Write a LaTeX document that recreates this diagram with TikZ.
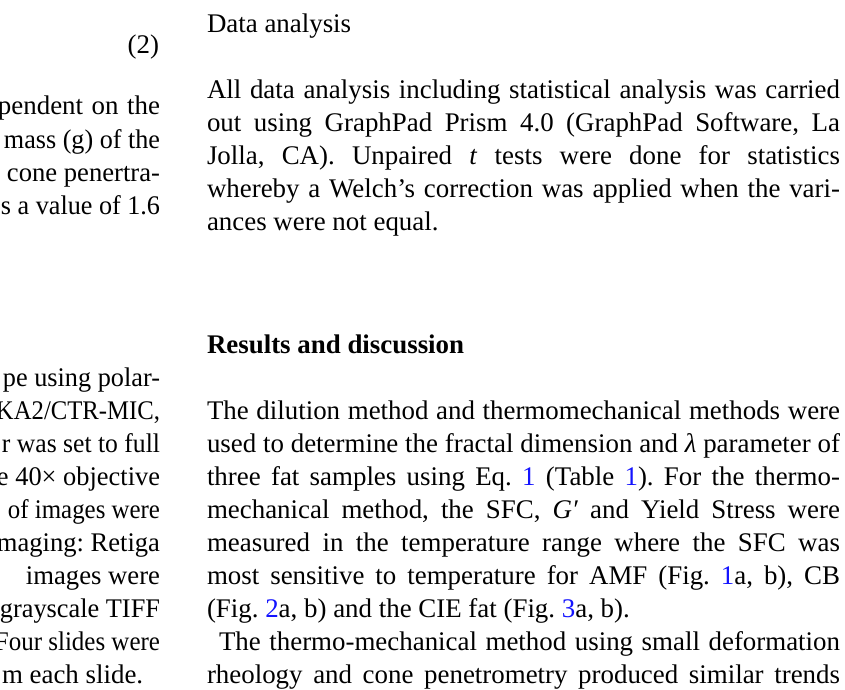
\documentclass[tikz,border=0pt]{standalone}
\usepackage{fontspec}
\setmainfont{Liberation Serif}
\usepackage{graphicx}
\frenchspacing
\definecolor{linkblue}{RGB}{20,20,255}
\newlength\natw
\newcommand\fitline[2]{%
  \settowidth\natw{#2}%
  \ifdim\natw>#1\relax
    \resizebox{#1}{\height}{#2}%
  \else
    \makebox[#1][s]{#2}%
  \fi}
\newcommand\lk[1]{{\color{linkblue}#1}}
\tikzset{
  txt/.style={inner sep=0pt, outer sep=0pt, font=\fontsize{26.9}{33}\selectfont\frenchspacing},
  rcol/.style={txt, anchor=base west},
  lcol/.style={txt, anchor=base east},
}
\begin{document}
\begin{tikzpicture}[x=1pt,y=-1pt]
\useasboundingbox (0,0) rectangle (845,689);
\fill[white] (0,0) rectangle (845,689);
\clip (0,0) rectangle (845,689);
% ---------- left column ----------
\node[lcol] (l0) at (159,53) {(2)};
\node[lcol] (l1) at (160,114) {\fitline{162pt}{pendent on the}};
\node[lcol] (l2) at (160,148) {\fitline{156pt}{mass (g) of the}};
\node[lcol] (l3) at (160,181) {\fitline{153pt}{cone penertra-}};
\node[lcol] (l4) at (160,214) {\fitline{159pt}{s a value of 1.6}};
\node[lcol] (l5) at (160,386) {\fitline{157pt}{pe using polar-}};
\node[lcol] (l6) at (160,419) {\fitline{164pt}{KA2/CTR-MIC,}};
\node[lcol] (l7) at (160,452) {\fitline{158pt}{r was set to full}};
\node[lcol] (l8) at (160,485) {\fitline{163pt}{e 40× objective}};
\node[lcol] (l9) at (160,518) {\fitline{152pt}{of images were}};
\node[lcol] (l10) at (160,551) {\fitline{163pt}{maging: Retiga}};
\node[lcol] (l11) at (160,584) {\fitline{134pt}{images were}};
\node[lcol] (l12) at (160,617) {\fitline{160pt}{grayscale TIFF}};
\node[lcol] (l13) at (160,650) {\fitline{165pt}{Four slides were}};
\node[txt, anchor=base west] (l14) at (2,683) {m each slide.};
% ---------- right column ----------
\node[rcol] (h1) at (207,32) {Data analysis};
\node[rcol] (r1) at (207,98) {\fitline{633pt}{All data analysis including statistical analysis was carried}};
\node[rcol] (r2) at (207,131) {\fitline{633pt}{out using GraphPad Prism 4.0 (GraphPad Software, La}};
\node[rcol] (r3) at (207,164) {\fitline{633pt}{Jolla, CA). Unpaired \textit{t} tests were done for statistics}};
\node[rcol] (r4) at (207,197) {\fitline{633pt}{whereby a Welch’s correction was applied when the vari-}};
\node[rcol] (r5) at (207,230) {ances were not equal.};
\node[rcol, font=\fontsize{26.9}{33}\selectfont\bfseries] (h2) at (207,353) {Results and discussion};
\node[rcol] (r6) at (207,419) {\fitline{633pt}{The dilution method and thermomechanical methods were}};
\node[rcol] (r7) at (207,452) {\fitline{633pt}{used to determine the fractal dimension and \textit{λ} parameter of}};
\node[rcol] (r8) at (207,485) {\fitline{633pt}{three fat samples using Eq. \lk{1} (Table \lk{1}). For the thermo-}};
\node[rcol] (r9) at (207,518) {\fitline{633pt}{mechanical method, the SFC, \textit{G′} and Yield Stress were}};
\node[rcol] (r10) at (207,551) {\fitline{633pt}{measured in the temperature range where the SFC was}};
\node[rcol] (r11) at (207,584) {\fitline{633pt}{most sensitive to temperature for AMF (Fig. \lk{1}a, b), CB}};
\node[rcol] (r12) at (207,617) {(Fig. \lk{2}a, b) and the CIE fat (Fig. \lk{3}a, b).};
\node[rcol] (r13) at (219,650) {\fitline{621pt}{The thermo-mechanical method using small deformation}};
\node[rcol] (r14) at (207,683) {\fitline{633pt}{rheology and cone penetrometry produced similar trends}};
\end{tikzpicture}
\end{document}
